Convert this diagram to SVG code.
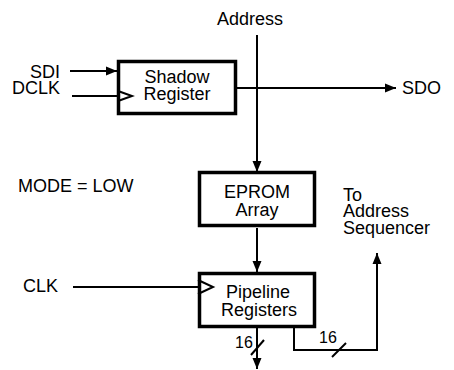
<svg xmlns="http://www.w3.org/2000/svg" width="454" height="370" viewBox="0 0 454 370">
<style>
text{font-family:"Liberation Sans",Arial,Helvetica,sans-serif;font-size:18px;fill:#000}
.c{text-anchor:middle}
.e{text-anchor:end}
.s{font-size:16px}
.box{fill:#fff;stroke:#000;stroke-width:3.5}
.w{fill:none;stroke:#000;stroke-width:2}
.clk{fill:none;stroke:#000;stroke-width:2}
</style>
<defs>
<marker id="ah" markerUnits="userSpaceOnUse" markerWidth="12" markerHeight="10" refX="11" refY="5" orient="auto">
<path d="M0,0.5 L11,5 L0,9.5 Z" fill="#000"/>
</marker>
</defs>
<g id="connectors">
<line class="w" x1="70" y1="71" x2="117" y2="71" marker-end="url(#ah)"/>
<line class="w" x1="72" y1="96" x2="118" y2="96"/>
<line class="w" x1="237" y1="88" x2="396" y2="88" marker-end="url(#ah)"/>
<line class="w" x1="257" y1="35" x2="257" y2="172" marker-end="url(#ah)"/>
<line class="w" x1="257" y1="228" x2="257" y2="272" marker-end="url(#ah)"/>
<line class="w" x1="73" y1="287" x2="198" y2="287"/>
<line class="w" x1="257" y1="328" x2="257" y2="369" marker-end="url(#ah)"/>
<polyline class="w" points="294,328 294,350 377,350 377,253" marker-end="url(#ah)"/>
<line class="w" x1="251" y1="355" x2="264" y2="340"/>
<line class="w" x1="332" y1="357" x2="346" y2="343"/>
<text class="s" x="244" y="348" text-anchor="middle">16</text>
<text class="s" x="328" y="343" text-anchor="middle">16</text>
</g>
<g id="shadow">
<rect class="box" x="118.5" y="61.5" width="117" height="52"/>
<polyline class="clk" points="118,91 132,96 118,101"/>
<text class="c" x="177" y="83">Shadow</text>
<text class="c" x="177" y="100">Register</text>
</g>
<g id="eprom">
<rect class="box" x="199.5" y="172.5" width="115" height="53"/>
<text class="c" x="257" y="198">EPROM</text>
<text class="c" x="257" y="216">Array</text>
</g>
<g id="pipeline">
<rect class="box" x="199.5" y="273.5" width="115" height="53"/>
<polyline class="clk" points="198,280 213,287 198,294"/>
<text class="c" x="258" y="298">Pipeline</text>
<text class="c" x="259" y="316">Registers</text>
</g>
<g id="labels">
<text class="c" x="250" y="25">Address</text>
<text class="e" x="60" y="78">SDI</text>
<text class="e" x="60" y="94">DCLK</text>
<text x="402" y="94">SDO</text>
<text x="18" y="192">MODE = LOW</text>
<text x="23" y="292">CLK</text>
<text x="343" y="201">To</text>
<text x="343" y="217">Address</text>
<text x="343" y="234">Sequencer</text>
</g>
</svg>
